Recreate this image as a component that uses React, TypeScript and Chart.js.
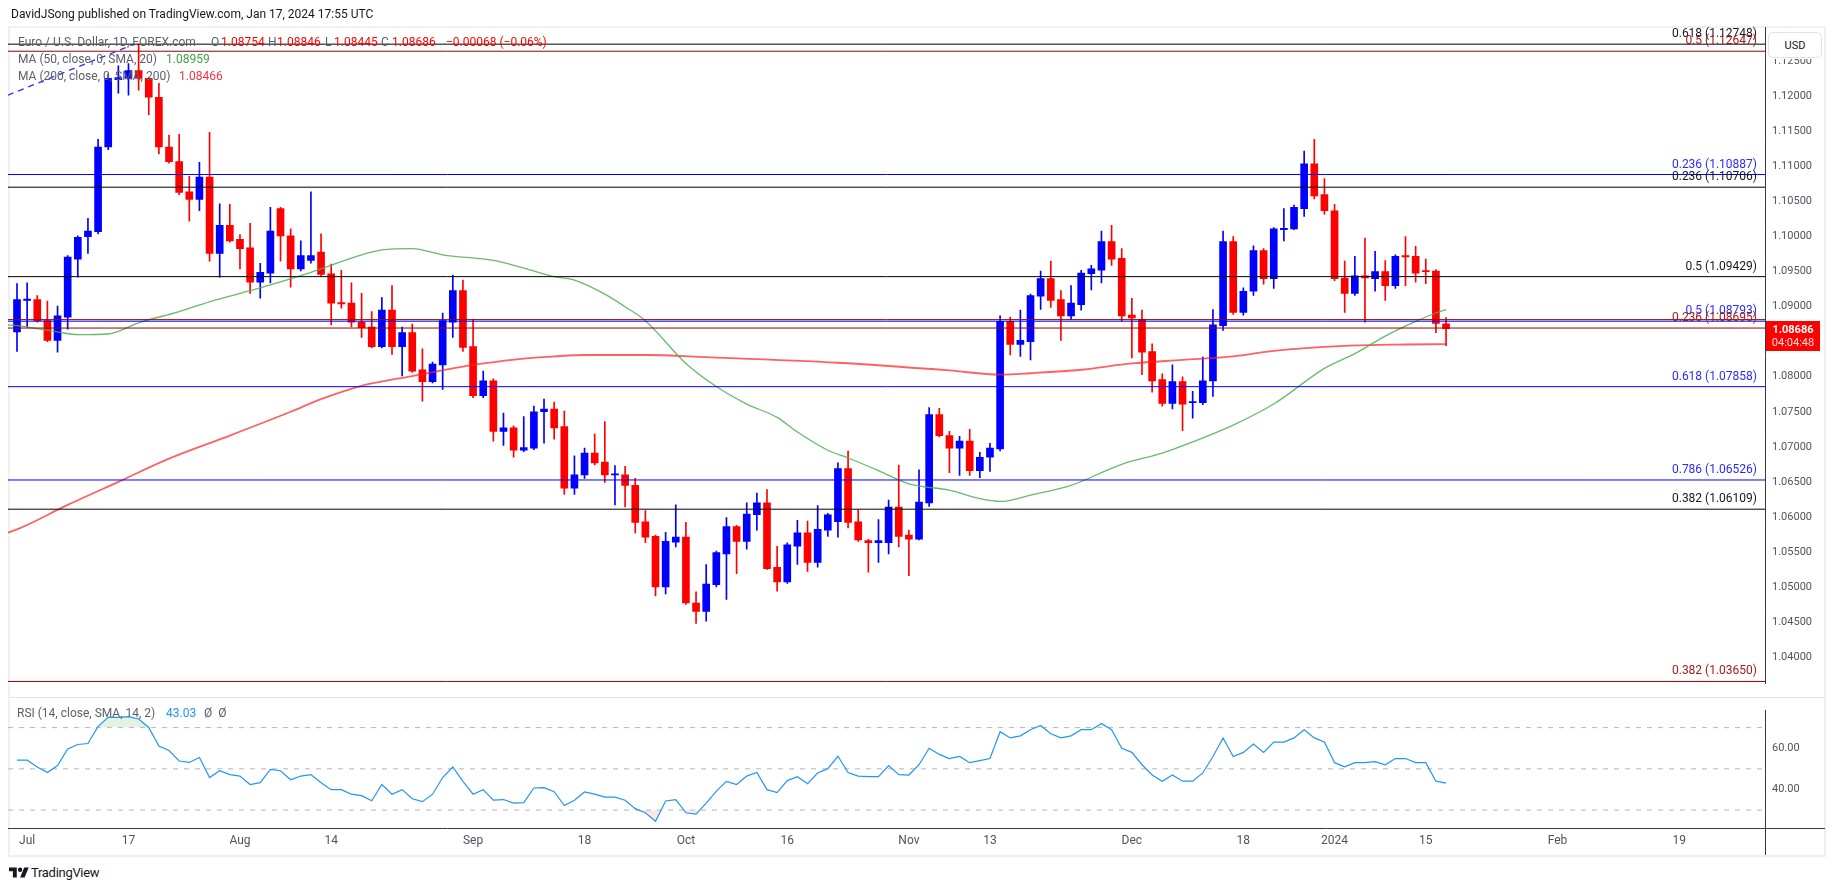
import React, { useEffect, useRef } from 'react';
import { Chart, registerables } from 'chart.js';

Chart.register(...registerables);

// ---------- series (daily bars, EUR/USD, FOREX.com) ----------
const barDates = [
  'Jun 30',
  'Jul 3', 'Jul 4', 'Jul 5', 'Jul 6', 'Jul 7', 'Jul 10', 'Jul 11', 'Jul 12', 'Jul 13', 'Jul 14',
  'Jul 17', 'Jul 18', 'Jul 19', 'Jul 20', 'Jul 21', 'Jul 24', 'Jul 25', 'Jul 26', 'Jul 27', 'Jul 28', 'Jul 31',
  'Aug 1', 'Aug 2', 'Aug 3', 'Aug 4', 'Aug 7', 'Aug 8', 'Aug 9', 'Aug 10', 'Aug 11', 'Aug 14', 'Aug 15',
  'Aug 16', 'Aug 17', 'Aug 18', 'Aug 21', 'Aug 22', 'Aug 23', 'Aug 24', 'Aug 25', 'Aug 28', 'Aug 29', 'Aug 30', 'Aug 31',
  'Sep 1', 'Sep 4', 'Sep 5', 'Sep 6', 'Sep 7', 'Sep 8', 'Sep 11', 'Sep 12', 'Sep 13', 'Sep 14', 'Sep 15',
  'Sep 18', 'Sep 19', 'Sep 20', 'Sep 21', 'Sep 22', 'Sep 25', 'Sep 26', 'Sep 27', 'Sep 28', 'Sep 29',
  'Oct 2', 'Oct 3', 'Oct 4', 'Oct 5', 'Oct 6', 'Oct 9', 'Oct 10', 'Oct 11', 'Oct 12', 'Oct 13', 'Oct 16',
  'Oct 17', 'Oct 18', 'Oct 19', 'Oct 20', 'Oct 23', 'Oct 24', 'Oct 25', 'Oct 26', 'Oct 27', 'Oct 30', 'Oct 31',
  'Nov 1', 'Nov 2', 'Nov 3', 'Nov 6', 'Nov 7', 'Nov 8', 'Nov 9', 'Nov 10', 'Nov 13', 'Nov 14', 'Nov 15',
  'Nov 16', 'Nov 17', 'Nov 20', 'Nov 21', 'Nov 22', 'Nov 23', 'Nov 24', 'Nov 27', 'Nov 28', 'Nov 29', 'Nov 30',
  'Dec 1', 'Dec 4', 'Dec 5', 'Dec 6', 'Dec 7', 'Dec 8', 'Dec 11', 'Dec 12', 'Dec 13', 'Dec 14', 'Dec 15',
  'Dec 18', 'Dec 19', 'Dec 20', 'Dec 21', 'Dec 22', 'Dec 26', 'Dec 27', 'Dec 28', 'Dec 29',
  'Jan 2', 'Jan 3', 'Jan 4', 'Jan 5', 'Jan 8', 'Jan 9', 'Jan 10', 'Jan 11', 'Jan 12', 'Jan 15', 'Jan 16', 'Jan 17',
];

const opens = [
  1.0864, 1.0909, 1.0910, 1.0880, 1.0852, 1.0885, 1.0968, 1.1000, 1.1007, 1.1128,
  1.1224, 1.1226, 1.1237, 1.1226, 1.1199, 1.1128, 1.1107, 1.1064, 1.1053, 1.1085,
  1.0976, 1.1016, 1.0996, 1.0984, 1.0935, 1.0948, 1.1040, 1.1001, 1.0954, 1.0966,
  1.0978, 1.0947, 1.0906, 1.0905, 1.0878, 1.0871, 1.0843, 1.0895, 1.0843, 1.0863,
  1.0810, 1.0793, 1.0817, 1.0878, 1.0923, 1.0843, 1.0773, 1.0794, 1.0722, 1.0727,
  1.0695, 1.0698, 1.0750, 1.0754, 1.0729, 1.0641, 1.0660, 1.0691, 1.0678, 1.0660,
  1.0660, 1.0645, 1.0593, 1.0572, 1.0500, 1.0564, 1.0571, 1.0477, 1.0465, 1.0503,
  1.0547, 1.0586, 1.0565, 1.0603, 1.0620, 1.0528, 1.0507, 1.0558, 1.0577, 1.0535,
  1.0581, 1.0593, 1.0669, 1.0593, 1.0566, 1.0563, 1.0563, 1.0614, 1.0574, 1.0568,
  1.0620, 1.0746, 1.0716, 1.0698, 1.0708, 1.0666, 1.0685, 1.0697, 1.0879, 1.0846,
  1.0850, 1.0915, 1.0940, 1.0910, 1.0887, 1.0903, 1.0947, 1.0952, 1.0993, 1.0969,
  1.0888, 1.0882, 1.0836, 1.0796, 1.0762, 1.0793, 1.0763, 1.0763, 1.0794, 1.0873,
  1.0993, 1.0892, 1.0922, 1.0980, 1.0940, 1.1010, 1.1011, 1.1040, 1.1104, 1.1060,
  1.1037, 1.0941, 1.0919, 1.0944, 1.0940, 1.0950, 1.0930, 1.0973, 1.0972, 1.0951,
  1.0951, 1.08754,
];

const highs = [
  1.0933, 1.0934, 1.0916, 1.0908, 1.0901, 1.0973, 1.1001, 1.1026, 1.1139, 1.1232,
  1.1244, 1.1247, 1.1275, 1.1227, 1.1219, 1.1145, 1.1146, 1.1086, 1.1106, 1.1149,
  1.1047, 1.1046, 1.1003, 1.1019, 1.0962, 1.1042, 1.1042, 1.1011, 1.0994, 1.1064,
  1.1004, 1.0961, 1.0952, 1.0934, 1.0919, 1.0893, 1.0913, 1.0930, 1.0871, 1.0875,
  1.0840, 1.0821, 1.0891, 1.0945, 1.0938, 1.0882, 1.0808, 1.0797, 1.0748, 1.0730,
  1.0743, 1.0758, 1.0768, 1.0764, 1.0751, 1.0687, 1.0698, 1.0718, 1.0736, 1.0673,
  1.0672, 1.0655, 1.0609, 1.0574, 1.0578, 1.0617, 1.0592, 1.0493, 1.0532, 1.0551,
  1.0599, 1.0588, 1.0620, 1.0634, 1.0639, 1.0558, 1.0563, 1.0595, 1.0594, 1.0616,
  1.0605, 1.0677, 1.0694, 1.0610, 1.0568, 1.0596, 1.0624, 1.0674, 1.0581, 1.0667,
  1.0756, 1.0755, 1.0722, 1.0715, 1.0725, 1.0692, 1.0705, 1.0887, 1.0885, 1.0895,
  1.0918, 1.0951, 1.0965, 1.0923, 1.0930, 1.0952, 1.0959, 1.1008, 1.1016, 1.0983,
  1.0912, 1.0895, 1.0847, 1.0804, 1.0817, 1.0800, 1.0779, 1.0828, 1.0896, 1.1008,
  1.1000, 1.0927, 1.0987, 1.0983, 1.1013, 1.1040, 1.1045, 1.1122, 1.1139, 1.1083,
  1.1046, 1.0965, 1.0972, 1.0998, 1.0979, 1.0966, 1.0974, 1.1000, 1.0986, 1.0968,
  1.0953, 1.08846,
];

const lows = [
  1.0836, 1.0871, 1.0878, 1.0850, 1.0835, 1.0868, 1.0942, 1.0976, 1.1004, 1.1124,
  1.1205, 1.1202, 1.1209, 1.1174, 1.1118, 1.1105, 1.1060, 1.1022, 1.1037, 1.0965,
  1.0942, 1.0992, 1.0954, 1.0919, 1.0912, 1.0934, 1.0965, 1.0928, 1.0951, 1.0962,
  1.0944, 1.0874, 1.0898, 1.0871, 1.0856, 1.0841, 1.0841, 1.0832, 1.0801, 1.0806,
  1.0765, 1.0791, 1.0782, 1.0856, 1.0836, 1.0770, 1.0770, 1.0708, 1.0702, 1.0685,
  1.0693, 1.0696, 1.0705, 1.0711, 1.0632, 1.0632, 1.0655, 1.0674, 1.0649, 1.0617,
  1.0614, 1.0577, 1.0563, 1.0487, 1.0490, 1.0557, 1.0475, 1.0448, 1.0451, 1.0500,
  1.0482, 1.0519, 1.0554, 1.0581, 1.0525, 1.0494, 1.0505, 1.0532, 1.0522, 1.0528,
  1.0572, 1.0571, 1.0584, 1.0565, 1.0521, 1.0535, 1.0547, 1.0557, 1.0516, 1.0567,
  1.0615, 1.0714, 1.0663, 1.0659, 1.0659, 1.0656, 1.0665, 1.0694, 1.0831, 1.0829,
  1.0824, 1.0896, 1.0899, 1.0852, 1.0882, 1.0895, 1.0924, 1.0934, 1.0959, 1.0879,
  1.0827, 1.0803, 1.0778, 1.0758, 1.0754, 1.0723, 1.0741, 1.0760, 1.0772, 1.0866,
  1.0889, 1.0888, 1.0916, 1.0932, 1.0926, 1.0994, 1.1010, 1.1029, 1.1054, 1.1032,
  1.0937, 1.0892, 1.0916, 1.0878, 1.0922, 1.0909, 1.0926, 1.0930, 1.0935, 1.0933,
  1.0863, 1.08445,
];

const closes = [
  1.0910, 1.0911, 1.0880, 1.0852, 1.0887, 1.0971, 1.0999, 1.1008, 1.1128, 1.1226,
  1.1227, 1.1237, 1.1226, 1.1199, 1.1128, 1.1107, 1.1063, 1.1053, 1.1085, 1.0976,
  1.1016, 1.0994, 1.0983, 1.0935, 1.0949, 1.1008, 1.1001, 1.0954, 1.0973, 1.0973,
  1.0946, 1.0905, 1.0904, 1.0878, 1.0870, 1.0843, 1.0895, 1.0843, 1.0863, 1.0808,
  1.0793, 1.0818, 1.0880, 1.0923, 1.0842, 1.0773, 1.0794, 1.0722, 1.0727, 1.0695,
  1.0699, 1.0750, 1.0754, 1.0727, 1.0641, 1.0660, 1.0691, 1.0677, 1.0660, 1.0661,
  1.0645, 1.0592, 1.0571, 1.0500, 1.0565, 1.0571, 1.0477, 1.0465, 1.0504, 1.0549,
  1.0586, 1.0565, 1.0604, 1.0620, 1.0526, 1.0507, 1.0560, 1.0577, 1.0535, 1.0582,
  1.0603, 1.0669, 1.0592, 1.0567, 1.0563, 1.0566, 1.0614, 1.0572, 1.0568, 1.0621,
  1.0746, 1.0716, 1.0698, 1.0708, 1.0666, 1.0685, 1.0698, 1.0879, 1.0846, 1.0852,
  1.0916, 1.0940, 1.0909, 1.0887, 1.0905, 1.0948, 1.0954, 1.0993, 1.0968, 1.0887,
  1.0884, 1.0835, 1.0794, 1.0762, 1.0793, 1.0761, 1.0764, 1.0794, 1.0874, 1.0993,
  1.0892, 1.0922, 1.0980, 1.0940, 1.1011, 1.1012, 1.1042, 1.1104, 1.1058, 1.1037,
  1.0940, 1.0919, 1.0944, 1.0941, 1.0950, 1.0930, 1.0972, 1.0971, 1.0948, 1.0950,
  1.0876, 1.08686,
];

// RSI(14) per bar
const rsiValues = [
  54.2, 54.2, 50.9, 48.2, 51.6, 59.6, 61.8, 62.3, 70.6, 75.0,
  75.0, 75.3, 74.2, 70.1, 61.1, 58.9, 53.8, 53.1, 55.5, 45.8,
  49.1, 47.2, 46.5, 42.4, 43.3, 49.7, 49.1, 44.7, 46.5, 47.2,
  43.3, 39.9, 39.9, 37.7, 37.0, 34.5, 42.4, 37.7, 39.9, 35.5,
  34.1, 37.7, 45.8, 50.9, 43.9, 37.7, 39.9, 34.8, 35.1, 33.4,
  33.6, 40.7, 40.9, 38.9, 32.2, 34.8, 38.8, 37.7, 36.3, 36.3,
  34.8, 30.7, 28.7, 24.6, 34.4, 35.1, 28.7, 28.0, 33.4, 39.2,
  43.9, 42.4, 46.5, 48.2, 39.9, 38.5, 44.3, 46.2, 42.8, 48.0,
  50.1, 56.1, 48.2, 46.5, 46.2, 46.2, 51.6, 47.2, 47.0, 52.0,
  60.0, 57.0, 55.0, 56.0, 53.0, 54.0, 55.0, 68.0, 65.0, 66.0,
  69.0, 71.0, 67.0, 65.0, 66.0, 69.0, 69.0, 72.0, 69.0, 60.0,
  58.0, 52.0, 47.0, 44.0, 47.0, 44.0, 44.0, 48.0, 56.0, 65.0,
  56.0, 58.0, 62.0, 58.0, 63.0, 63.0, 65.0, 69.0, 65.0, 63.0,
  53.0, 51.0, 53.0, 53.0, 53.5, 52.0, 55.0, 55.0, 53.0, 53.0,
  44.0, 43.03,
];

// moving averages, sampled at bar positions (-1 = the session before Jun 30)
const ma50Bars = [
  -1, 0, 4, 6, 9, 12, 16, 19, 22, 25, 29, 34, 36, 39, 42, 47, 50, 53, 55, 58,
  60, 62, 66, 69, 72, 75, 77, 80, 82, 85, 88, 92, 95, 97, 100, 104, 109, 113, 116, 120,
  124, 129, 132, 135, 138, 140, 141,
];
const ma50Values = [
  1.0874, 1.0873, 1.0864, 1.0860, 1.0861, 1.0877, 1.0893, 1.0907, 1.0919, 1.0931,
  1.0949, 1.0974, 1.0981, 1.0983, 1.0974, 1.0966, 1.0955, 1.0943, 1.0938, 1.0918,
  1.0900, 1.0880, 1.0819, 1.0786, 1.0761, 1.0742, 1.0721, 1.0695, 1.0684, 1.0666,
  1.0647, 1.0638, 1.0626, 1.0622, 1.0631, 1.0645, 1.0675, 1.0691, 1.0707, 1.0731,
  1.0761, 1.0812, 1.0833, 1.0858, 1.0879, 1.0891, 1.08959,
];
const ma200Bars = [
  -1, 0, 5, 10, 15, 21, 27, 30, 34, 39, 43, 46, 50, 53, 56, 62, 68, 81, 92, 97,
  100, 105, 110, 115, 120, 124, 131, 137, 141,
];
const ma200Values = [
  1.0577, 1.0582, 1.0617, 1.0650, 1.0683, 1.0716, 1.0750, 1.0768, 1.0787, 1.0801,
  1.0812, 1.0819, 1.0826, 1.0829, 1.0831, 1.0831, 1.0828, 1.0820, 1.0809, 1.0803,
  1.0805, 1.0810, 1.0819, 1.0824, 1.0829, 1.0837, 1.0844, 1.0846, 1.08466,
];

// dashed trend line drawing
const trendBars = [-0.9, 11.6];
const trendValues = [1.1202, 1.1275];

// Fibonacci drawings: ratio, price level, drawing set
const fibRatios = ['0.618', '0.5', '0.236', '0.236', '0.5', '', '0.5', '0.236', '0.618', '0.786', '0.382', '0.382'];
const fibPrices = [1.12748, 1.12647, 1.10887, 1.10706, 1.09429, 1.08815, 1.08793, 1.08695, 1.07858, 1.06526, 1.06109, 1.0365];
const fibSets = ['black', 'red', 'blue', 'black', 'black', 'red', 'blue', 'red', 'blue', 'blue', 'black', 'red'];

// axes
const priceTicks = [
  1.04, 1.045, 1.05, 1.055, 1.06, 1.065, 1.07, 1.075, 1.08, 1.085, 1.09,
  1.095, 1.1, 1.105, 1.11, 1.115, 1.12, 1.125,
];
const rsiTicks = [40, 60];
const rsiBands = [70, 50, 30];
const timeTickBars = [1, 11, 22, 31, 45, 56, 66, 76, 88, 96, 110, 121, 130, 139, 152, 164];
const timeTickLabels = ['Jul', '17', 'Aug', '14', 'Sep', '18', 'Oct', '16', 'Nov', '13', 'Dec', '18', '2024', '15', 'Feb', '19'];
const countdown = '04:04:48';
const changeText = '\u22120.00068 (\u22120.06%)';

// ---------- view & style ----------
const FONT = 'Roboto, "Noto Sans", "Liberation Sans", sans-serif';
const UP = '#0000ff';
const DOWN = '#ff0000';
const X_MIN = -0.888;
const X_MAX = 172.47;
const PRICE_MIN = 1.03622;
const PRICE_MAX = 1.12993;
const RSI_MIN = 21.3;
const RSI_MAX = 78.26;
const AXIS_W = 60;
const setStyle: Record<string, { line: string; text: string }> = {
  black: { line: '#000000', text: '#131722' },
  blue: { line: '#0000ff', text: '#2a2aff' },
  red: { line: '#990000', text: '#a31a1a' },
};
const TEXT_GRAY = '#5d606b';
const AXIS_TEXT = '#50535e';
const AXIS_LINE = '#363a45';

const candleColor = (i: number) => (closes[i] >= opens[i] ? UP : DOWN);

const fibLabelPlugin = {
  id: 'fibLabels',
  afterDatasetsDraw(chart: any) {
    const { ctx, chartArea, scales } = chart;
    ctx.save();
    ctx.font = `12px ${FONT}`;
    ctx.textAlign = 'right';
    ctx.textBaseline = 'middle';
    fibPrices.forEach((p, k) => {
      if (!fibRatios[k]) return;
      const y = scales.y.getPixelForValue(p);
      ctx.fillStyle = setStyle[fibSets[k]].text;
      ctx.fillText(`${fibRatios[k]} (${p.toFixed(5)})`, chartArea.right - 8, y - 10);
    });
    ctx.restore();
  },
};

const lastPricePlugin = {
  id: 'lastPrice',
  afterDraw(chart: any) {
    const { ctx, chartArea, scales } = chart;
    const last = closes.length - 1;
    const y = scales.y.getPixelForValue(closes[last]);
    const x0 = chartArea.right + 1;
    const top = Math.round(y) - 8;
    ctx.save();
    ctx.fillStyle = DOWN;
    ctx.fillRect(x0, top, 54, 30);
    ctx.fillStyle = '#ffffff';
    ctx.textAlign = 'center';
    ctx.textBaseline = 'middle';
    ctx.font = `bold 11px ${FONT}`;
    ctx.fillText(closes[last].toFixed(5), x0 + 27, top + 9);
    ctx.font = `11px ${FONT}`;
    ctx.fillStyle = 'rgba(255,255,255,0.88)';
    ctx.fillText(countdown, x0 + 27, top + 22);
    ctx.restore();
  },
};

const hline = (value: number, color: string, order: number, extra: any = {}) => ({
  type: 'line',
  data: [
    { x: X_MIN, y: value },
    { x: X_MAX, y: value },
  ],
  borderColor: color,
  borderWidth: 1,
  pointRadius: 0,
  fill: false,
  order,
  ...extra,
});

function App() {
  const mainRef = useRef<HTMLCanvasElement | null>(null);
  const rsiRef = useRef<HTMLCanvasElement | null>(null);

  useEffect(() => {
    if (!mainRef.current || !rsiRef.current) return;

    const bodies = {
      type: 'bar',
      data: opens.map((o, i) => ({ x: i, y: [o, closes[i]] })),
      backgroundColor: opens.map((_, i) => candleColor(i)),
      borderWidth: 0,
      barThickness: 7,
      minBarLength: 1,
      grouped: false,
      order: 2,
    };
    const wicks = {
      type: 'bar',
      data: lows.map((l, i) => ({ x: i, y: [l, highs[i]] })),
      backgroundColor: lows.map((_, i) => candleColor(i)),
      borderWidth: 0,
      barThickness: 1,
      grouped: false,
      order: 3,
    };
    const ma50 = {
      type: 'line',
      data: ma50Bars.map((b, k) => ({ x: b, y: ma50Values[k] })),
      borderColor: 'rgba(76,175,80,0.85)',
      borderWidth: 1.3,
      pointRadius: 0,
      cubicInterpolationMode: 'monotone',
      fill: false,
      order: 1,
    };
    const ma200 = {
      type: 'line',
      data: ma200Bars.map((b, k) => ({ x: b, y: ma200Values[k] })),
      borderColor: 'rgba(255,30,30,0.7)',
      borderWidth: 1.8,
      pointRadius: 0,
      cubicInterpolationMode: 'monotone',
      fill: false,
      order: 1,
    };
    const trend = {
      type: 'line',
      data: trendBars.map((b, k) => ({ x: b, y: trendValues[k] })),
      borderColor: '#2a2aff',
      borderWidth: 1.3,
      borderDash: [6, 5],
      pointRadius: 0,
      fill: false,
      order: 0,
    };
    const fibLines = fibPrices.map((p, k) => hline(p, setStyle[fibSets[k]].line, 0));

    const main = new Chart(mainRef.current, {
      type: 'bar',
      data: { datasets: [...fibLines, trend, ma50, ma200, bodies, wicks] as any },
      options: {
        animation: false,
        responsive: false,
        maintainAspectRatio: false,
        events: [],
        layout: { padding: { left: 8, top: 27, right: 10, bottom: 0 } },
        plugins: { legend: { display: false }, tooltip: { enabled: false } },
        scales: {
          x: {
            type: 'linear',
            min: X_MIN,
            max: X_MAX,
            display: false,
            offset: false,
          },
          y: {
            type: 'linear',
            position: 'right',
            min: PRICE_MIN,
            max: PRICE_MAX,
            grid: { display: false, drawTicks: false },
            border: { display: true, color: AXIS_LINE, width: 1 },
            ticks: {
              padding: 7,
              color: AXIS_TEXT,
              font: { family: FONT, size: 11 },
              callback: (v: any) => Number(v).toFixed(5),
            },
            afterBuildTicks: (s: any) => {
              s.ticks = priceTicks.map((v) => ({ value: v }));
            },
            afterFit: (s: any) => {
              s.width = AXIS_W;
            },
          },
        },
      } as any,
      plugins: [fibLabelPlugin, lastPricePlugin],
    });

    const rsiPts = rsiValues.map((v, i) => ({ x: i, y: v }));
    const rsi = new Chart(rsiRef.current, {
      type: 'line',
      data: {
        datasets: [
          {
            data: rsiPts,
            borderColor: '#2196f3',
            borderWidth: 1.2,
            pointRadius: 0,
            fill: false,
            order: 0,
          },
          {
            data: rsiPts,
            borderWidth: 0,
            pointRadius: 0,
            fill: { value: 70, above: 'rgba(76,175,80,0.16)', below: 'rgba(0,0,0,0)' },
            order: 2,
          },
          {
            data: rsiPts,
            borderWidth: 0,
            pointRadius: 0,
            fill: { value: 30, above: 'rgba(0,0,0,0)', below: 'rgba(242,54,69,0.12)' },
            order: 2,
          },
          ...rsiBands.map((b) => hline(b, '#b2b5be', 1, { borderDash: [5, 6] })),
        ] as any,
      },
      options: {
        animation: false,
        responsive: false,
        maintainAspectRatio: false,
        events: [],
        layout: { padding: { left: 8, top: 0, right: 10, bottom: 0 } },
        plugins: { legend: { display: false }, tooltip: { enabled: false } },
        scales: {
          x: {
            type: 'linear',
            min: X_MIN,
            max: X_MAX,
            grid: { display: false, drawTicks: false },
            border: { display: true, color: AXIS_LINE, width: 1 },
            ticks: {
              autoSkip: false,
              maxRotation: 0,
              padding: 6,
              color: AXIS_TEXT,
              font: { family: FONT, size: 12 },
              callback: (_v: any, idx: number) => timeTickLabels[idx] ?? '',
            },
            afterBuildTicks: (s: any) => {
              s.ticks = timeTickBars.map((v) => ({ value: v }));
            },
            afterFit: (s: any) => {
              s.height = 27;
            },
          },
          y: {
            type: 'linear',
            position: 'right',
            min: RSI_MIN,
            max: RSI_MAX,
            grid: { display: false, drawTicks: false },
            border: { display: true, color: AXIS_LINE, width: 1 },
            ticks: {
              padding: 7,
              color: AXIS_TEXT,
              font: { family: FONT, size: 11 },
              callback: (v: any) => Number(v).toFixed(2),
            },
            afterBuildTicks: (s: any) => {
              s.ticks = rsiTicks.map((v) => ({ value: v }));
            },
            afterFit: (s: any) => {
              s.width = AXIS_W;
            },
          },
        },
      } as any,
    });

    return () => {
      main.destroy();
      rsi.destroy();
    };
  }, []);

  const abs = (style: React.CSSProperties): React.CSSProperties => ({ position: 'absolute', ...style });
  const txt: React.CSSProperties = { fontFamily: FONT, fontSize: 12, lineHeight: '17px', whiteSpace: 'nowrap' };
  const last = closes.length - 1;

  return (
    <div style={{ position: 'fixed', left: 0, top: 0, width: 1835, height: 891, background: '#ffffff', overflow: 'hidden' }}>
      {/* frame */}
      <div style={abs({ left: 8, top: 26, width: 1814, height: 827, border: '2px solid #eef0f4' })} />
      <div style={abs({ left: 10, top: 697, width: 1815, height: 1, background: '#e0e3eb' })} />

      <canvas ref={mainRef} width={1835} height={697} style={abs({ left: 0, top: 0, width: 1835, height: 697 })} />
      <canvas ref={rsiRef} width={1835} height={158} style={abs({ left: 0, top: 697, width: 1835, height: 158 })} />

      {/* axis lines outside the plot areas */}
      <div style={abs({ left: 1765, top: 828, width: 60, height: 1, background: AXIS_LINE })} />
      <div style={abs({ left: 1765, top: 828, width: 1, height: 27, background: AXIS_LINE })} />

      {/* currency button with its clear zone */}
      <div style={abs({ left: 1766, top: 28, width: 58, height: 31, background: '#ffffff' })} />
      <div
        style={abs({
          left: 1768, top: 32, width: 52, height: 24, border: '1px solid #e0e3eb', borderRadius: 5,
          background: '#ffffff', fontFamily: FONT, fontSize: 11, color: '#131722',
          display: 'flex', alignItems: 'center', justifyContent: 'center',
        })}
      >
        USD
      </div>

      {/* header */}
      <div style={abs({ ...txt, left: 11, top: 6, fontSize: 12, color: '#131722' })}>
        DavidJSong published on TradingView.com, Jan 17, 2024 17:55 UTC
      </div>

      {/* legend */}
      <div style={abs({ ...txt, left: 18, top: 34, color: TEXT_GRAY })}>Euro / U.S. Dollar, 1D, FOREX.com</div>
      <div style={abs({ ...txt, left: 211, top: 34, color: TEXT_GRAY })}>O</div>
      <div style={abs({ ...txt, left: 221, top: 34, color: DOWN })}>{opens[last].toFixed(5)}</div>
      <div style={abs({ ...txt, left: 268, top: 34, color: TEXT_GRAY })}>H</div>
      <div style={abs({ ...txt, left: 277, top: 34, color: DOWN })}>{highs[last].toFixed(5)}</div>
      <div style={abs({ ...txt, left: 325, top: 34, color: TEXT_GRAY })}>L</div>
      <div style={abs({ ...txt, left: 334, top: 34, color: DOWN })}>{lows[last].toFixed(5)}</div>
      <div style={abs({ ...txt, left: 381, top: 34, color: TEXT_GRAY })}>C</div>
      <div style={abs({ ...txt, left: 392, top: 34, color: DOWN })}>{closes[last].toFixed(5)}</div>
      <div style={abs({ ...txt, left: 446, top: 34, color: DOWN })}>{changeText}</div>

      <div style={abs({ ...txt, left: 18, top: 51, color: TEXT_GRAY })}>MA (50, close, 0, SMA, 20)</div>
      <div style={abs({ ...txt, left: 166, top: 51, color: '#43a047' })}>{ma50Values[ma50Values.length - 1].toFixed(5)}</div>
      <div style={abs({ ...txt, left: 18, top: 68, color: TEXT_GRAY })}>MA (200, close, 0, SMA, 200)</div>
      <div style={abs({ ...txt, left: 179, top: 68, color: '#f23645' })}>{ma200Values[ma200Values.length - 1].toFixed(5)}</div>

      <div style={abs({ ...txt, left: 17, top: 705, color: TEXT_GRAY })}>RSI (14, close, SMA, 14, 2)</div>
      <div style={abs({ ...txt, left: 166, top: 705, color: '#2196f3' })}>{rsiValues[last].toFixed(2)}</div>
      <div style={abs({ ...txt, left: 204, top: 705, color: TEXT_GRAY })}>{'\u00d8\u2002\u00d8'}</div>

      {/* footer logo */}
      <svg style={abs({ left: 9, top: 865 })} width={20} height={16} viewBox="0 0 36 28">
        <path d="M14 22H7V11H0V4h14v18z" fill="#131722" />
        <circle cx={20} cy={8} r={4} fill="#131722" />
        <path d="M28 22h-8l7.5-18h8L28 22z" fill="#131722" />
      </svg>
      <div style={abs({ ...txt, left: 31, top: 864, fontSize: 13, color: '#131722', letterSpacing: -0.3 })}>TradingView</div>
    </div>
  );
}

export default App;
